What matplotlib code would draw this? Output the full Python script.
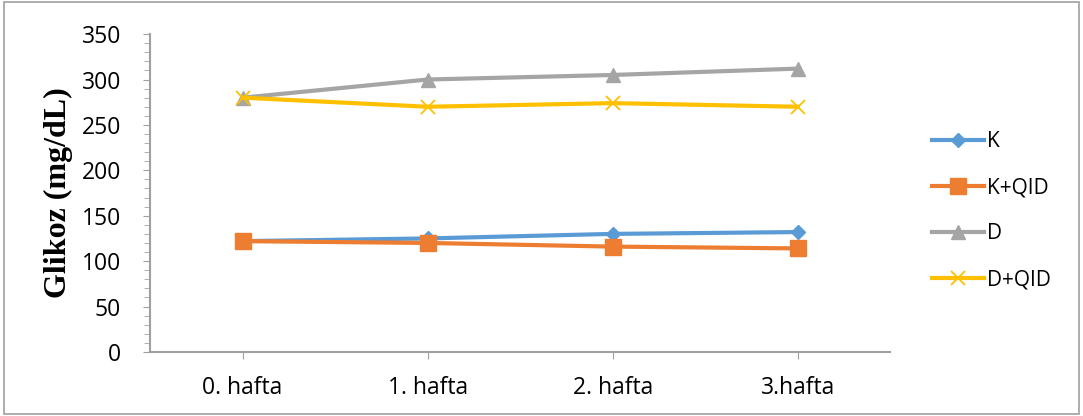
import matplotlib.pyplot as plt
from matplotlib.ticker import MultipleLocator
from matplotlib.patches import Rectangle

weeks = ["0. hafta", "1. hafta", "2. hafta", "3.hafta"]
k_vals = [122, 125, 130, 132]
kqid_vals = [122, 120, 116, 114]
d_vals = [280, 300, 305, 312]
dqid_vals = [280, 270, 274, 270]

plt.rcParams["font.family"] = ["Open Sans", "DejaVu Sans"]

fig = plt.figure(figsize=(10.83, 4.16), dpi=100)
ax = fig.add_axes([0.1385, 0.154, 0.6835, 0.764])

x = list(range(len(weeks)))
ax.plot(x, k_vals, color="#5b9bd5", lw=3, marker="D", ms=7, label="K")
ax.plot(x, kqid_vals, color="#ed7d31", lw=3, marker="s", ms=11, label="K+QID")
ax.plot(x, d_vals, color="#a5a5a5", lw=3, marker="^", ms=10, label="D")
ax.plot(x, dqid_vals, color="#ffc000", lw=3, marker="x", ms=10, mew=1.3, label="D+QID")

ax.set_xlim(-0.5, 3.5)
ax.set_ylim(0, 350)
ax.set_xticks(x)
ax.set_xticklabels(weeks, fontsize=16.5)
ax.yaxis.set_major_locator(MultipleLocator(50))
ax.yaxis.set_minor_locator(MultipleLocator(10))
ax.tick_params(axis="y", labelsize=16.5, length=5, color="#a0a0a0", pad=16)
ax.tick_params(axis="y", which="minor", length=4, color="#a0a0a0")
ax.tick_params(axis="x", length=5, color="#a0a0a0", pad=12)
for s in ["top", "right"]:
    ax.spines[s].set_visible(False)
for s in ["left", "bottom"]:
    ax.spines[s].set_color("#a0a0a0")
    ax.spines[s].set_linewidth(1.5)

ax.set_ylabel("Glikoz (mg/dL)", fontsize=23, fontweight="bold",
              family="Liberation Serif", labelpad=6)

fig.legend(handles=ax.get_lines(), loc="center left",
           bbox_to_anchor=(0.8606, 0.493), frameon=False,
           borderpad=0, borderaxespad=0,
           fontsize=15, labelspacing=1.2, handlelength=2.5, handletextpad=0.15)

fig.patches.append(Rectangle((0.004, 0.005), 0.992, 0.99, transform=fig.transFigure,
                             fill=False, edgecolor="#a0a0a0", lw=1.2))

fig.savefig("out.png", dpi=100)
